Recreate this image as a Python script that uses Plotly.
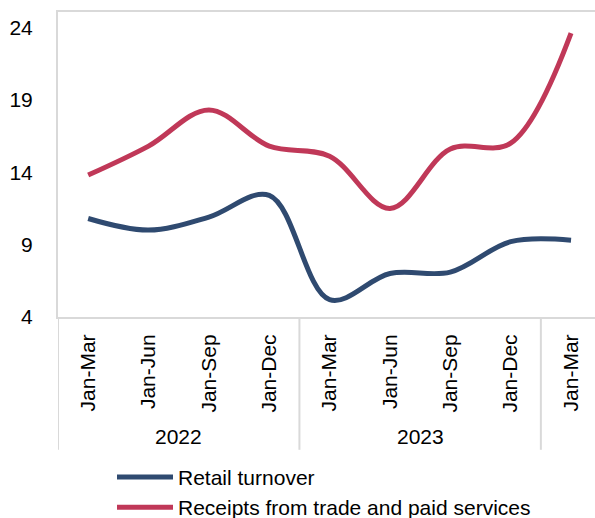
import plotly.graph_objects as go

# Periods (cumulative quarters) grouped by year
years = ["2022", "2023", "2024"]
periods = ["Jan-Mar", "Jan-Jun", "Jan-Sep", "Jan-Dec",
           "Jan-Mar", "Jan-Jun", "Jan-Sep", "Jan-Dec",
           "Jan-Mar"]
period_year = ["2022", "2022", "2022", "2022",
               "2023", "2023", "2023", "2023",
               "2024"]

retail_turnover = [10.8, 10.0, 10.9, 12.4, 5.2, 7.0, 7.1, 9.2, 9.3]
receipts_trade_services = [13.8, 15.8, 18.3, 15.8, 15.1, 11.5, 15.6, 16.0, 23.6]

y_ticks = [4, 9, 14, 19, 24]

BLUE = "#2F4A70"
RED = "#C03858"
FRAME = "#D9D9D9"
FONT = "Arial, Liberation Sans, sans-serif"
FS = 21

xpos = list(range(len(periods)))

fig = go.Figure()
fig.add_trace(go.Scatter(
    x=xpos, y=retail_turnover, mode="lines", name="Retail turnover",
    line=dict(color=BLUE, width=5, shape="spline", smoothing=1.0),
))
fig.add_trace(go.Scatter(
    x=xpos, y=receipts_trade_services, mode="lines",
    name="Receipts from trade and paid services",
    line=dict(color=RED, width=5, shape="spline", smoothing=1.0),
))

plot_h = 518 - 11.5 - 201
ext = -(450 - 317) / plot_h  # how far the category separators reach below the axis

# Year group separators and labels under the period labels
groups = []
for y in years:
    idx = [i for i, py in enumerate(period_year) if py == y]
    groups.append((y, idx[0] - 0.5, idx[-1] + 0.5))

shapes = []
for _, lo, hi in groups:
    shapes.append(dict(type="line", xref="x", yref="paper", x0=lo, x1=lo,
                       y0=0, y1=ext, line=dict(color=FRAME, width=2)))
annotations = []
for name, lo, hi in groups[:-1]:
    annotations.append(dict(text=name, xref="x", yref="paper",
                            x=(lo + hi) / 2, y=-(437 - 317) / plot_h,
                            showarrow=False, yanchor="middle",
                            font=dict(size=FS, color="black", family=FONT)))

fig.update_layout(
    width=595, height=518,
    margin=dict(l=58, r=0, t=11.5, b=201, autoexpand=False),
    paper_bgcolor="white", plot_bgcolor="white",
    font=dict(family=FONT, size=FS, color="black"),
    showlegend=True,
    legend=dict(x=(112 - 58) / 537, y=-(457 - 317) / plot_h,
                xanchor="left", yanchor="top",
                font=dict(size=FS, color="black", family=FONT),
                bgcolor="rgba(0,0,0,0)", itemwidth=56),
    shapes=shapes,
    annotations=annotations,
)
fig.update_xaxes(
    range=[-0.5, 8.397], tickvals=xpos, ticktext=periods, tickangle=-90,
    showgrid=False, zeroline=False, showline=True, mirror=True,
    linecolor=FRAME, linewidth=2, ticks="", ticklabelstandoff=7,
    automargin=False,
    tickfont=dict(size=FS, color="black", family=FONT),
)
fig.update_yaxes(
    range=[4, 25.06], tickvals=y_ticks, showgrid=False, zeroline=False,
    showline=True, linecolor=FRAME, linewidth=2, ticks="",
    ticklabelstandoff=19, automargin=False,
    tickfont=dict(size=FS, color="black", family=FONT),
)

fig.write_html("out.html")
